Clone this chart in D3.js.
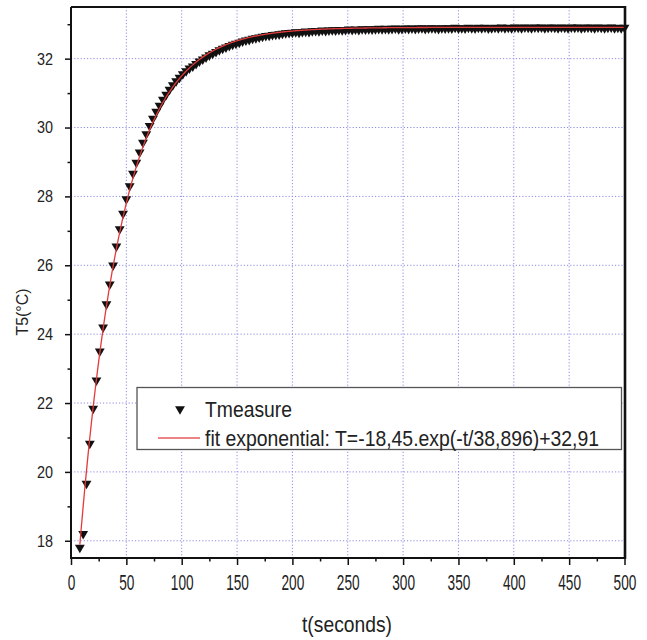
<!DOCTYPE html>
<html>
<head>
<meta charset="utf-8">
<script src="https://cdn.jsdelivr.net/npm/d3@7"></script>
<style>
  html, body { margin: 0; padding: 0; background: #fff; }
  svg { display: block; }
</style>
</head>
<body>
<svg id="chart" width="647" height="640"></svg>
<script>
// Measured temperature T5 (°C) against time (s)
const timeSeconds = [
  8, 11, 14, 17, 20, 23, 26, 29, 32, 35, 38, 41, 44, 47, 50, 53, 56, 59, 62, 65,
  68, 71, 74, 77, 80, 83, 86, 89, 92, 95, 98, 101, 104, 107, 110, 113, 116, 119, 122, 125,
  128, 131, 134, 137, 140, 143, 146, 149, 152, 155, 158, 161, 164, 167, 170, 173, 176, 179, 182, 185,
  188, 191, 194, 197, 200, 203, 206, 209, 212, 215, 218, 221, 224, 227, 230, 233, 236, 239, 242, 245,
  248, 251, 254, 257, 260, 263, 266, 269, 272, 275, 278, 281, 284, 287, 290, 293, 296, 299, 302, 305,
  308, 311, 314, 317, 320, 323, 326, 329, 332, 335, 338, 341, 344, 347, 350, 353, 356, 359, 362, 365,
  368, 371, 374, 377, 380, 383, 386, 389, 392, 395, 398, 401, 404, 407, 410, 413, 416, 419, 422, 425,
  428, 431, 434, 437, 440, 443, 446, 449, 452, 455, 458, 461, 464, 467, 470, 473, 476, 479, 482, 485,
  488, 491, 494, 497, 500
];
const tMeasure = [
  17.80, 18.20, 19.66, 20.82, 21.84, 22.66, 23.50, 24.20, 24.87, 25.45, 26.00, 26.55, 27.05, 27.50, 27.92, 28.30, 28.66, 28.98, 29.28, 29.56,
  29.81, 30.05, 30.26, 30.46, 30.64, 30.81, 30.96, 31.10, 31.23, 31.35, 31.45, 31.55, 31.64, 31.72, 31.78, 31.85, 31.92, 31.98, 32.04, 32.10,
  32.15, 32.20, 32.25, 32.29, 32.33, 32.37, 32.41, 32.44, 32.47, 32.50, 32.53, 32.55, 32.58, 32.60, 32.62, 32.64, 32.66, 32.67, 32.69, 32.70,
  32.71, 32.73, 32.74, 32.75, 32.76, 32.77, 32.76, 32.78, 32.79, 32.78, 32.80, 32.81, 32.80, 32.82, 32.81, 32.82, 32.83, 32.82, 32.84, 32.83,
  32.84, 32.85, 32.84, 32.85, 32.84, 32.86, 32.85, 32.86, 32.85, 32.86, 32.87, 32.86, 32.87, 32.86, 32.87, 32.88, 32.86, 32.87, 32.88, 32.87,
  32.88, 32.87, 32.88, 32.89, 32.87, 32.88, 32.89, 32.88, 32.87, 32.89, 32.88, 32.89, 32.88, 32.90, 32.88, 32.89, 32.88, 32.90, 32.89, 32.88,
  32.90, 32.89, 32.90, 32.88, 32.89, 32.90, 32.89, 32.91, 32.89, 32.90, 32.89, 32.91, 32.90, 32.89, 32.91, 32.90, 32.89, 32.91, 32.90, 32.91,
  32.89, 32.90, 32.91, 32.90, 32.89, 32.91, 32.90, 32.89, 32.91, 32.90, 32.91, 32.89, 32.90, 32.91, 32.90, 32.89, 32.91, 32.90, 32.89, 32.90,
  32.91, 32.89, 32.90, 32.89, 32.90
];

// Exponential fit parameters: T = A.exp(-t/tau) + T0
const fitA = -18.45;
const fitTau = 38.896;
const fitT0 = 32.91;

// Axis ticks
const xMajorTicks = [0, 50, 100, 150, 200, 250, 300, 350, 400, 450, 500];
const xMinorTicks = [25, 75, 125, 175, 225, 275, 325, 375, 425, 475];
const yMajorTicks = [18, 20, 22, 24, 26, 28, 30, 32];
const yMinorTicks = [19, 21, 23, 25, 27, 29, 31, 33];
const xGridTicks = [50, 100, 150, 200, 250, 300, 350, 400, 450];

const legendMeasureLabel = "Tmeasure";
const legendFitLabel = "fit exponential: T=-18,45.exp(-t/38,896)+32,91";
const xTitle = "t(seconds)";
const yTitle = "T5(°C)";

const FONT = "'Liberation Sans Narrow', 'Arial Narrow', 'Liberation Sans', Arial, sans-serif";

const plot = { left: 71, top: 7, right: 624.5, bottom: 558 };

const x = d3.scaleLinear().domain([0, 500]).range([plot.left, plot.right]);
const y = d3.scaleLinear().domain([17.5, 33.5]).range([plot.bottom, plot.top]);

const svg = d3.select("#chart");

// Dotted grid
const grid = svg.append("g")
  .attr("stroke", "#8c8ce6")
  .attr("stroke-width", 1)
  .attr("stroke-dasharray", "1.2,2");
grid.selectAll("line.gx").data(xGridTicks).join("line")
  .attr("x1", d => x(d)).attr("x2", d => x(d))
  .attr("y1", plot.top).attr("y2", plot.bottom);
grid.selectAll("line.gy").data(yMajorTicks).join("line")
  .attr("x1", plot.left).attr("x2", plot.right)
  .attr("y1", d => y(d)).attr("y2", d => y(d));

// Measured points: downward triangles
const tri = d3.symbol(d3.symbolTriangle, 42)();
const points = timeSeconds.map((t, i) => ({ t, v: tMeasure[i] }));
svg.append("g").selectAll("path").data(points).join("path")
  .attr("d", tri)
  .attr("transform", d => `translate(${x(d.t)},${y(d.v)}) rotate(180)`)
  .attr("fill", "#111");

// Fit curve from the stated parameters
const fitSamples = d3.range(timeSeconds[0], timeSeconds[timeSeconds.length - 1] + 0.5, 1)
  .map(t => ({ t, v: fitA * Math.exp(-t / fitTau) + fitT0 }));
svg.append("path")
  .datum(fitSamples)
  .attr("fill", "none")
  .attr("stroke", "#e23b3b")
  .attr("stroke-width", 1.3)
  .attr("d", d3.line().x(d => x(d.t)).y(d => y(d.v)));

// Axes
function styleTicks(g) {
  g.select(".domain").remove();
  g.selectAll(".tick line").attr("stroke", "#111").attr("stroke-width", 1.5);
}
const yAxisMajor = svg.append("g")
  .attr("transform", `translate(${plot.left},0)`)
  .call(d3.axisLeft(y).tickValues(yMajorTicks).tickSize(6).tickPadding(12).tickFormat(d3.format("d")))
  .call(styleTicks);
yAxisMajor.selectAll("text")
  .attr("font-family", FONT).attr("font-size", 17).attr("fill", "#222")
  .attr("textLength", 16).attr("lengthAdjust", "spacingAndGlyphs");
svg.append("g")
  .attr("transform", `translate(${plot.left},0)`)
  .call(d3.axisLeft(y).tickValues(yMinorTicks).tickSize(3.5).tickFormat(""))
  .call(styleTicks);

const xAxisMajor = svg.append("g")
  .attr("transform", `translate(0,${plot.bottom})`)
  .call(d3.axisBottom(x).tickValues(xMajorTicks).tickSize(7).tickFormat(d3.format("d")))
  .call(styleTicks);
xAxisMajor.selectAll("text")
  .attr("y", null).attr("dy", null)
  .attr("transform", "translate(0,32) scale(1,1.25)")
  .attr("font-family", FONT).attr("font-size", 17).attr("fill", "#222")
  .attr("textLength", d => String(d).length * 7.6)
  .attr("lengthAdjust", "spacingAndGlyphs");
svg.append("g")
  .attr("transform", `translate(0,${plot.bottom})`)
  .call(d3.axisBottom(x).tickValues(xMinorTicks).tickSize(3.5).tickFormat(""))
  .call(styleTicks);

// Frame
svg.append("line").attr("x1", plot.left).attr("x2", plot.left)
  .attr("y1", plot.top).attr("y2", plot.bottom + 1).attr("stroke", "#111").attr("stroke-width", 2);
svg.append("line").attr("x1", plot.left - 1).attr("x2", plot.right)
  .attr("y1", plot.bottom).attr("y2", plot.bottom).attr("stroke", "#111").attr("stroke-width", 2);
svg.append("line").attr("x1", plot.left).attr("x2", plot.right)
  .attr("y1", plot.top).attr("y2", plot.top).attr("stroke", "#111").attr("stroke-width", 2);
svg.append("line").attr("x1", plot.right + 0.5).attr("x2", plot.right + 0.5)
  .attr("y1", plot.top - 1).attr("y2", plot.bottom + 1).attr("stroke", "#111").attr("stroke-width", 2.6);

// Axis titles
svg.append("text")
  .attr("transform", "translate(347,632) scale(1,1.25)")
  .attr("text-anchor", "middle")
  .attr("font-family", FONT).attr("font-size", 18).attr("fill", "#222")
  .attr("textLength", 90).attr("lengthAdjust", "spacingAndGlyphs")
  .text(xTitle);
svg.append("text")
  .attr("transform", "translate(28,312) rotate(-90)")
  .attr("text-anchor", "middle")
  .attr("font-family", FONT).attr("font-size", 17).attr("fill", "#222")
  .attr("textLength", 47).attr("lengthAdjust", "spacingAndGlyphs")
  .text(yTitle);

// Legend
const legend = svg.append("g");
legend.append("rect")
  .attr("x", 137).attr("y", 387.5).attr("width", 484.5).attr("height", 62)
  .attr("fill", "#fff").attr("stroke", "#555").attr("stroke-width", 1.3);
legend.append("path")
  .attr("d", tri)
  .attr("transform", "translate(180,409) rotate(180)")
  .attr("fill", "#111");
legend.append("text")
  .attr("transform", "translate(205,416.5) scale(1,1.25)")
  .attr("font-family", FONT).attr("font-size", 17).attr("fill", "#222")
  .attr("textLength", 87).attr("lengthAdjust", "spacingAndGlyphs")
  .text(legendMeasureLabel);
legend.append("line")
  .attr("x1", 158).attr("x2", 200).attr("y1", 438).attr("y2", 438)
  .attr("stroke", "#e85a5a").attr("stroke-width", 1.3);
legend.append("text")
  .attr("transform", "translate(205,446) scale(1,1.25)")
  .attr("font-family", FONT).attr("font-size", 17).attr("fill", "#222")
  .attr("textLength", 394).attr("lengthAdjust", "spacingAndGlyphs")
  .text(legendFitLabel);
</script>
</body>
</html>
